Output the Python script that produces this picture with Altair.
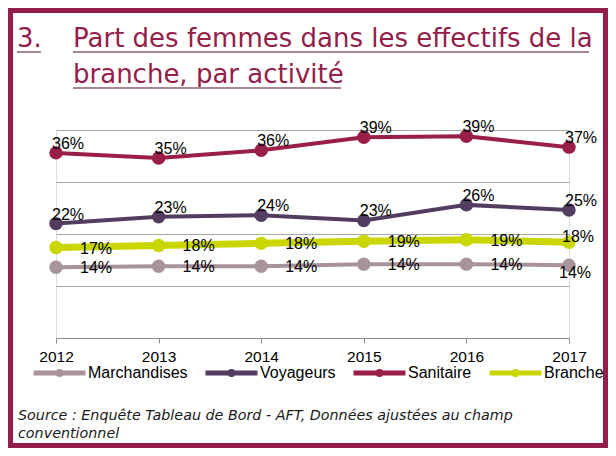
import altair as alt
import pandas as pd

years = [2012, 2013, 2014, 2015, 2016, 2017]
series_names = ["Marchandises", "Voyageurs", "Sanitaire", "Branche"]
marchandises = [13.6, 13.8, 13.8, 14.2, 14.2, 14.0]
voyageurs = [22.0, 23.3, 23.6, 22.6, 25.6, 24.6]
sanitaire = [35.6, 34.6, 36.1, 38.6, 38.8, 36.7]
branche = [17.4, 17.8, 18.2, 18.6, 18.9, 18.4]
colors = ["#A8939C", "#523D60", "#9A1F48", "#C9D600"]
y_grid = [10, 20, 30, 40]

title_num = "3."
title_line1 = "Part des femmes dans les effectifs de la"
title_line2 = "branche, par activité"
source_line1 = "Source : Enquête Tableau de Bord - AFT, Données ajustées au champ"
source_line2 = "conventionnel"

rows = []
for name, vals in zip(series_names, [marchandises, voyageurs, sanitaire, branche]):
    for yr, v in zip(years, vals):
        rows.append({"year": str(yr), "series": name, "value": v})
df = pd.DataFrame(rows)

# layout (svg coordinates; page = svg + 8)
W, H = 513, 208
PL, PT = 48, 122
PR = 600 - PL - W
PB = 440 - PT - H


def rx(v):
    return v - PL


def ry(v):
    return v - PT


MAROON = "#93204A"
UNDER = "#A88593"
NUMF = "Liberation Sans"
TITLEF = "DejaVu Sans"

legend_path = "M-1,0L1,0M-0.06,0A0.06,0.06 0 1,0 0.06,0A0.06,0.06 0 1,0 -0.06,0"

base = alt.Chart(df).transform_calculate(
    label="format(datum.value, '.0f') + '%'"
)

x = alt.X(
    "year:O",
    scale=alt.Scale(type="point", padding=0),
    axis=alt.Axis(
        title=None, labelAngle=0, domainColor="#8C8C8C", tickColor="#8C8C8C",
        tickSize=5, labelFontSize=15.5, labelFont=NUMF, labelColor="#000",
        labelPadding=6, grid=False,
    ),
)
y = alt.Y(
    "value:Q",
    scale=alt.Scale(domain=[0, 40]),
    axis=alt.Axis(values=y_grid, grid=True, gridColor="#A6A6A6", labels=False,
                  ticks=False, domain=False, title=None),
)
color = alt.Color(
    "series:N",
    scale=alt.Scale(domain=series_names, range=colors),
    legend=alt.Legend(
        orient="none", legendX=-25, legendY=214, direction="horizontal",
        title=None, symbolType=legend_path, symbolSize=2704,
        symbolStrokeWidth=5, labelFontSize=16, labelFont=NUMF,
        labelColor="#000", columnPadding=7, labelOffset=0, padding=0,
    ),
)

thin = base.transform_filter(alt.datum.series != "Branche").mark_line(strokeWidth=4).encode(x=x, y=y, color=color)
thick = base.transform_filter(alt.datum.series == "Branche").mark_line(strokeWidth=7).encode(x=x, y=y, color=color)
pts = base.mark_circle(size=180, opacity=1).encode(x=x, y=y, color=color)

above = base.transform_filter(
    alt.FieldOneOfPredicate(field="series", oneOf=["Sanitaire", "Voyageurs"])
).mark_text(align="center", baseline="alphabetic", dx=12, dy=-4, fontSize=16, font=NUMF, color="#000").encode(
    x=x, y=y, text="label:N")
right = base.transform_filter(
    alt.FieldOneOfPredicate(field="series", oneOf=["Branche", "Marchandises"])
).transform_filter(alt.datum.year != "2017").mark_text(
    align="center", baseline="alphabetic", dx=40, dy=6, fontSize=16, font=NUMF, color="#000").encode(
    x=x, y=y, text="label:N")
last_b = base.transform_filter(alt.datum.series == "Branche").transform_filter(alt.datum.year == "2017").mark_text(
    align="center", baseline="alphabetic", dx=9, dy=0, fontSize=16, font=NUMF, color="#000").encode(
    x=x, y=y, text="label:N")
last_m = base.transform_filter(alt.datum.series == "Marchandises").transform_filter(alt.datum.year == "2017").mark_text(
    align="center", baseline="alphabetic", dx=6, dy=13, fontSize=16, font=NUMF, color="#000").encode(
    x=x, y=y, text="label:N")

deco = alt.Chart(pd.DataFrame({"k": [0]}))

border = deco.mark_rect(fillOpacity=0, stroke=MAROON, strokeWidth=5).encode(
    x=alt.value(rx(2.5)), x2=alt.value(rx(597.5)), y=alt.value(ry(2.5)), y2=alt.value(ry(437.5)))


def txt(s, xs, ys, size, font, col, style="normal"):
    return deco.mark_text(align="left", baseline="alphabetic", fontSize=size, font=font,
                          color=col, fontStyle=style).encode(
        x=alt.value(rx(xs)), y=alt.value(ry(ys)), text=alt.value(s))


def uline(x1, x2, ys):
    return deco.mark_rule(color=UNDER, strokeWidth=2).encode(
        x=alt.value(rx(x1)), x2=alt.value(rx(x2)), y=alt.value(ry(ys)))


t0 = txt(title_num, 9, 39, 26, TITLEF, MAROON)
t1 = txt(title_line1, 65, 39, 26, TITLEF, MAROON)
t2 = txt(title_line2, 65, 75, 26, TITLEF, MAROON)
u0 = uline(9, 33, 44)
u1 = uline(65, 581, 44)
u2 = uline(65, 333, 80)
s1 = txt(source_line1, 10, 412, 14.3, TITLEF, "#1A1A1A", "italic")
s2 = txt(source_line2, 10, 430, 14.3, TITLEF, "#1A1A1A", "italic")

chart = alt.layer(
    border, t0, t1, t2, u0, u1, u2, s1, s2,
    thin, thick, pts, above, right, last_b, last_m,
).properties(
    width=W, height=H,
    padding={"left": PL, "top": PT, "right": PR, "bottom": PB},
    autosize=alt.AutoSizeParams(type="none"),
).configure_view(stroke=None).configure(background="#FFFFFF")

chart.save("out.html", embed_options={"renderer": "svg", "actions": False})
